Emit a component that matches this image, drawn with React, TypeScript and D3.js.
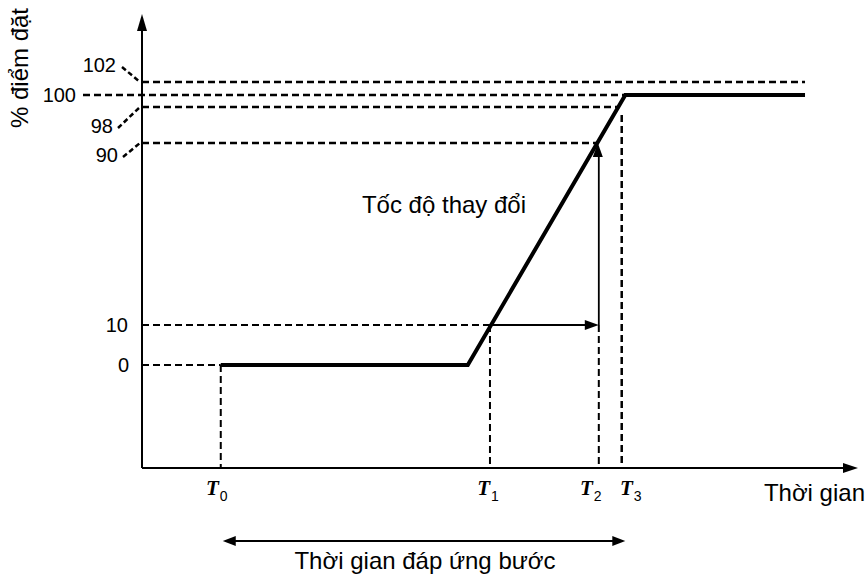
import React from "react";
import * as d3 from "d3";

// ---- data ----
const levelValues = [0, 10, 90, 98, 100, 102];
const levelLabels = ["0", "10", "90", "98", "100", "102"];
const timeNames = ["0", "1", "2", "3"];
const timeValues = [11, 48.6, 63.8, 67];
const responseT = [11, 45.5, 67.5, 92.6];
const responseV = [0, 0, 100, 100];
const yAxisTitle = "% điểm đặt";
const xAxisTitle = "Thời gian";
const rateLabel = "Tốc độ thay đổi";
const spanLabel = "Thời gian đáp ứng bước";

const W = 867;
const H = 580;
const FONT = "'Liberation Sans', Arial, Helvetica, sans-serif";

export default function App() {
  const x = d3.scaleLinear().domain([0, 100]).range([142, 858]);
  const y = d3
    .scaleLinear()
    .domain([0, 10, 90, 98, 100, 102])
    .range([365, 325, 143, 107, 95, 82]);
  const axisY = 468;
  const x0 = x(0);

  const line = d3
    .line<number>()
    .x((_, i) => x(responseT[i]))
    .y((_, i) => y(responseV[i]));

  const dash = "7,4";
  const T0 = x(timeValues[0]);
  const T1 = x(timeValues[1]);
  const T2 = x(timeValues[2]);
  const T3 = x(timeValues[3]);
  const rampEnd = x(responseT[2]);
  const flatEnd = x(responseT[3]);
  const rampX = (v: number) => {
    const ya = y(0), yb = y(100);
    const xa = x(responseT[1]), xb = x(responseT[2]);
    return xa + ((y(v) - ya) / (yb - ya)) * (xb - xa);
  };

  // label anchor (right edge, baseline)
  const labelPos: Record<string, [number, number]> = {
    "102": [116, 72],
    "100": [76, 102],
    "98": [113, 133],
    "90": [118, 162],
    "10": [128, 332],
    "0": [129, 372],
  };

  const tOffsets = [-1, 1, -5, 12];

  return (
    <svg
      width={W}
      height={H}
      style={{ position: "absolute", left: 0, top: 0, background: "#fff" }}
      fontFamily={FONT}
    >
      {/* horizontal dashed guides */}
      <g stroke="#000" strokeWidth={2.5} strokeDasharray={dash} fill="none">
        <line x1={x0} x2={flatEnd} y1={y(102)} y2={y(102)} />
        <line x1={83} x2={rampEnd} y1={y(100)} y2={y(100)} />
        <line x1={x0} x2={rampX(98)} y1={y(98)} y2={y(98)} />
        <line x1={x0} x2={rampX(90)} y1={y(90)} y2={y(90)} />
        <line x1={x0} x2={T1} y1={y(10)} y2={y(10)} strokeWidth={2} />
        <line x1={x0} x2={T0} y1={y(0)} y2={y(0)} strokeWidth={2} />
        {/* vertical dashed */}
        <line x1={T0} x2={T0} y1={y(0)} y2={axisY} strokeWidth={2} />
        <line x1={T1} x2={T1} y1={y(10)} y2={axisY} strokeWidth={2} />
        <line x1={T2} x2={T2} y1={y(10)} y2={axisY} strokeWidth={2} />
        <line x1={T3} x2={T3} y1={y(100) + 20} y2={axisY} />
        {/* leader lines */}
        <line x1={122} y1={67} x2={140} y2={y(102)} strokeDasharray="5,3" />
        <line x1={118} y1={128} x2={140} y2={y(98)} strokeDasharray="5,3" />
        <line x1={123} y1={157} x2={140} y2={y(90)} strokeDasharray="5,3" />
      </g>

      {/* solid arrows: 10% -> T2, T2 up to 90% */}
      <g stroke="#000" strokeWidth={1.8}>
        <line x1={T1} x2={T2 - 10} y1={y(10)} y2={y(10)} />
        <line x1={T2} x2={T2} y1={y(10)} y2={y(90) + 12} />
      </g>
      <path
        d={`M${T2},${y(10)} L${T2 - 14},${y(10) - 5} L${T2 - 14},${y(10) + 5} Z`}
        fill="#000"
      />
      <path
        d={`M${T2 - 1},${y(90)} L${T2 - 6},${y(90) + 14} L${T2 + 4},${y(90) + 14} Z`}
        fill="#000"
      />

      {/* axes */}
      <g stroke="#000" strokeWidth={2}>
        <line x1={x0} x2={x0} y1={axisY} y2={26} />
        <line x1={x0} x2={x(100) - 10} y1={axisY} y2={axisY} />
      </g>
      <path d={`M${x0},14 L${x0 - 5},31 L${x0 + 5},31 Z`} fill="#000" />
      <path
        d={`M${x(100)},${axisY} L${x(100) - 15},${axisY - 5} L${x(100) - 15},${axisY + 5} Z`}
        fill="#000"
      />

      {/* response */}
      <path
        d={line(responseV) || ""}
        fill="none"
        stroke="#000"
        strokeWidth={4}
        strokeLinejoin="miter"
      />

      {/* level labels */}
      <g fontSize={20} fill="#000" textAnchor="end">
        {levelValues.map((v, i) => {
          const p = labelPos[levelLabels[i]];
          return (
            <text key={v} x={p[0]} y={p[1]}>
              {levelLabels[i]}
            </text>
          );
        })}
      </g>

      {/* time labels */}
      <g fill="#000">
        {timeNames.map((n, i) => {
          const px = x(timeValues[i]) + tOffsets[i];
          return (
            <g key={n}>
              <text
                x={px - 1}
                y={495}
                textAnchor="end"
                fontFamily="'Liberation Serif', 'Times New Roman', serif"
                fontStyle="italic"
                fontWeight="bold"
                fontSize={21}
              >
                T
              </text>
              <text x={px} y={501} fontSize={14} textAnchor="start">
                {n}
              </text>
            </g>
          );
        })}
      </g>

      <text x={865} y={501} fontSize={24} textAnchor="end" fill="#000">
        {xAxisTitle}
      </text>

      <text
        transform="translate(28,68) rotate(-90)"
        fontSize={24}
        textAnchor="middle"
        fill="#000"
      >
        {yAxisTitle}
      </text>

      <text x={444} y={213} fontSize={24} textAnchor="middle" fill="#000">
        {rateLabel}
      </text>

      {/* step response span */}
      <line x1={T0 + 10} x2={rampEnd - 10} y1={541} y2={541} stroke="#000" strokeWidth={1.8} />
      <path d={`M${T0 + 2},541 L${T0 + 15},536 L${T0 + 15},546 Z`} fill="#000" />
      <path d={`M${rampEnd},541 L${rampEnd - 13},536 L${rampEnd - 13},546 Z`} fill="#000" />
      <text x={425} y={569} fontSize={24} textAnchor="middle" fill="#000">
        {spanLabel}
      </text>
    </svg>
  );
}
